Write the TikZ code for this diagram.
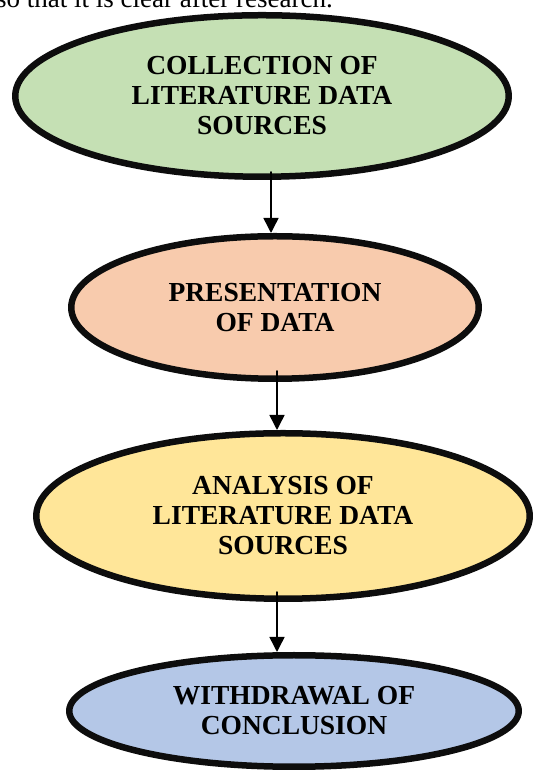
\documentclass[tikz,border=0pt]{standalone}
\usepackage{fontspec}
\setmainfont{Liberation Serif}
\usepackage{tikz}
\usetikzlibrary{shapes.geometric}
\usetikzlibrary{arrows.meta}

\definecolor{stepgreen}{HTML}{C5E0B4}
\definecolor{steppeach}{HTML}{F8CBAD}
\definecolor{stepyellow}{HTML}{FFE699}
\definecolor{stepblue}{HTML}{B4C7E7}
\definecolor{rimblack}{HTML}{0D0D0D}

\begin{document}
\begin{tikzpicture}[line cap=round,line join=round,x=1pt,y=1pt,
  stepoval/.style={ellipse,draw=rimblack,line width=6.5pt,align=center,
    font=\fontsize{27.5}{30}\selectfont\bfseries,inner sep=0pt},
  flowarrow/.style={line width=1.5pt,-{Triangle[length=15pt,width=15pt]}}]
\useasboundingbox (0,0) rectangle (534,773);
\clip (0,0) rectangle (534,773);

\node[anchor=base west,inner sep=0pt,font=\fontsize{27}{30}\selectfont] (lead) at (-4,765) {so that it is clear after research.};

\node[stepoval,fill=stepgreen,minimum width=493.5pt,minimum height=161.5pt] (collect) at (262,677) {COLLECTION OF\\LITERATURE DATA\\SOURCES};
\node[stepoval,fill=steppeach,minimum width=407.5pt,minimum height=142.5pt] (present) at (275,465.5) {PRESENTATION\\OF DATA};
\node[stepoval,fill=stepyellow,minimum width=493.5pt,minimum height=165.5pt] (analysis) at (283,257) {ANALYSIS OF\\LITERATURE DATA\\SOURCES};
\node[stepoval,fill=stepblue,minimum width=449.5pt,minimum height=111.5pt] (withdraw) at (294,62) {WITHDRAWAL OF\\CONCLUSION};

\draw[flowarrow] ([xshift=9pt,yshift=8pt]collect.south) -- ([xshift=9pt]collect.south |- present.north);
\draw[flowarrow] ([xshift=2pt,yshift=11pt]present.south) -- ([xshift=2pt]present.south |- analysis.north);
\draw[flowarrow] ([xshift=-6pt,yshift=10pt]analysis.south) -- ([xshift=-6pt]analysis.south |- withdraw.north);
\end{tikzpicture}
\end{document}
